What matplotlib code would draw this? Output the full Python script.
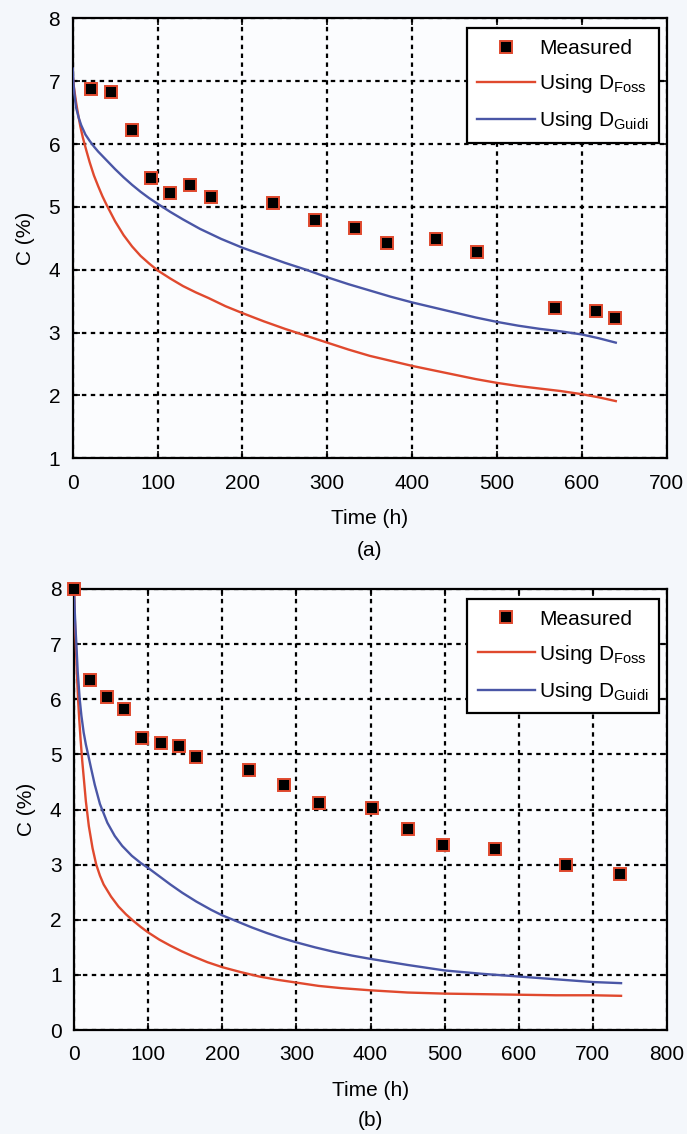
import matplotlib
matplotlib.use("Agg")
import matplotlib.pyplot as plt

plt.rcParams['font.family'] = ['Liberation Sans', 'DejaVu Sans']
plt.rcParams['mathtext.fontset'] = 'custom'
plt.rcParams['mathtext.rm'] = 'Liberation Sans'
plt.rcParams['mathtext.it'] = 'Liberation Sans'

# ---------------- Data: panel (a) ----------------
a_meas_t = [21.3, 45.7, 69.4, 92.6, 114.7, 138.8, 162.8, 236.5, 285.8, 332.3,
            370.6, 427.8, 476, 567.9, 616.8, 639.6]
a_meas_c = [6.87, 6.82, 6.23, 5.46, 5.22, 5.35, 5.15, 5.06, 4.79, 4.67,
            4.43, 4.49, 4.28, 3.39, 3.34, 3.24]

a_foss_t = [0, 1, 2, 4, 6, 9, 12, 16, 20, 25, 30, 35, 40, 50, 60, 70, 80, 90,
            100, 115, 130, 145, 160, 180, 200, 225, 250, 275, 300, 325, 350,
            375, 400, 425, 450, 475, 500, 525, 550, 575, 600, 620, 640]
a_foss_c = [7.1, 6.95, 6.85, 6.66, 6.5, 6.28, 6.1, 5.9, 5.71, 5.5, 5.33, 5.17,
            5.03, 4.77, 4.55, 4.37, 4.22, 4.1, 3.99, 3.86, 3.74, 3.64, 3.55,
            3.42, 3.31, 3.18, 3.06, 2.95, 2.84, 2.73, 2.63, 2.55, 2.47, 2.40,
            2.33, 2.26, 2.2, 2.15, 2.11, 2.07, 2.02, 1.97, 1.91]

a_guidi_t = [0, 1, 2, 4, 7, 10, 15, 20, 25, 30, 40, 50, 60, 70, 80, 90, 100,
             115, 130, 150, 175, 200, 225, 250, 275, 300, 325, 350, 375, 400,
             425, 450, 475, 500, 525, 550, 575, 600, 620, 640]
a_guidi_c = [7.2, 6.95, 6.8, 6.58, 6.42, 6.3, 6.15, 6.05, 5.96, 5.88, 5.74,
             5.6, 5.47, 5.35, 5.24, 5.14, 5.05, 4.92, 4.8, 4.65, 4.49, 4.35,
             4.23, 4.11, 4.0, 3.88, 3.77, 3.67, 3.57, 3.48, 3.4, 3.32, 3.24,
             3.17, 3.11, 3.06, 3.02, 2.97, 2.91, 2.84]

# ---------------- Data: panel (b) ----------------
b_meas_t = [0, 21.3, 43.9, 67.9, 92.3, 116.7, 141.2, 164.7, 235.7, 283.8, 330.2,
            402.3, 450, 498, 568, 663.8, 736]
b_meas_c = [8.0, 6.35, 6.04, 5.83, 5.30, 5.21, 5.15, 4.95, 4.71, 4.45, 4.12,
            4.02, 3.64, 3.36, 3.28, 3.0, 2.83]

b_foss_t = [0, 0.5, 1, 2, 3, 4, 5.5, 7, 9, 11, 13, 16, 20, 25, 30, 35, 40, 50,
            60, 70, 80, 90, 100, 115, 130, 145, 160, 180, 200, 225, 250, 275,
            300, 330, 360, 400, 450, 500, 550, 600, 650, 700, 738]
b_foss_c = [8.0, 7.75, 7.5, 7.15, 6.8, 6.45, 6.0, 5.65, 5.25, 4.9, 4.6, 4.15,
            3.7, 3.3, 3.0, 2.8, 2.64, 2.42, 2.24, 2.1, 1.98, 1.87, 1.77, 1.64,
            1.53, 1.43, 1.34, 1.23, 1.14, 1.05, 0.97, 0.91, 0.86, 0.8, 0.76,
            0.72, 0.68, 0.66, 0.65, 0.64, 0.63, 0.63, 0.62]

b_guidi_t = [0, 1, 2, 3.2, 5, 7.7, 10, 13, 16, 19, 23, 28, 35, 45, 55, 65, 78,
             90, 100, 115, 130, 146, 165, 185, 200, 220, 240, 260, 280, 300,
             325, 350, 375, 400, 450, 500, 550, 600, 650, 700, 738]
b_guidi_c = [8.0, 7.6, 7.3, 7.0, 6.5, 6.0, 5.7, 5.4, 5.18, 5.0, 4.75, 4.45,
             4.1, 3.76, 3.52, 3.34, 3.16, 3.03, 2.94, 2.79, 2.64, 2.49, 2.33,
             2.18, 2.08, 1.97, 1.86, 1.76, 1.67, 1.59, 1.5, 1.42, 1.35, 1.29,
             1.18, 1.08, 1.02, 0.97, 0.92, 0.87, 0.85]

labels = ['Measured', 'Using D$_{\\mathrm{Foss}}$', 'Using D$_{\\mathrm{Guidi}}$']

RED = '#e0492e'
BLUE = '#4a56a6'
FS = 15

fig = plt.figure(figsize=(6.87, 11.34), dpi=100, facecolor='#f4f7fb')
W, H = 687.0, 1134.0


def make_axes(l, r, t, b):
    return fig.add_axes([l / W, 1 - b / H, (r - l) / W, (b - t) / H])


def draw(ax, mt, mc, ft, fc, gt, gc, xmax, ymin, ymax, xstep, caption, cap_y):
    ax.set_facecolor('#fbfcfe')
    ax.plot(ft, fc, color=RED, lw=1.7, zorder=3, label=labels[1])
    ax.plot(gt, gc, color=BLUE, lw=1.7, zorder=3, label=labels[2])
    ax.plot(mt, mc, ls='none', marker='s', ms=8.2, mfc='black', mec=RED,
            mew=1.4, zorder=4, clip_on=False, label=labels[0])
    ax.set_xlim(0, xmax)
    ax.set_ylim(ymin, ymax)
    ax.set_xticks(range(0, xmax + 1, xstep))
    ax.set_yticks(range(ymin, ymax + 1))
    ax.grid(True, color='black', ls=(0, (2.0, 2.0)), lw=1.6, zorder=1)
    ax.set_axisbelow(True)
    ax.tick_params(direction='in', length=5, width=1.2, top=True, right=True,
                   labelsize=FS)
    ax.tick_params(axis='x', pad=11)
    ax.tick_params(axis='y', pad=9)
    for s in ax.spines.values():
        s.set_linewidth(1.6)
    ax.set_xlabel('Time (h)', fontsize=FS, labelpad=12)
    ax.set_ylabel('C (%)', fontsize=FS, labelpad=10)
    h, l = ax.get_legend_handles_labels()
    order = [2, 0, 1]
    leg = ax.legend([h[i] for i in order], [l[i] for i in order],
                    loc='upper right', bbox_to_anchor=(0.987, 0.977),
                    borderaxespad=0, fontsize=FS, fancybox=False,
                    framealpha=1, edgecolor='black', handlelength=2.75,
                    handletextpad=0.2, labelspacing=0.68, borderpad=0.5)
    leg.get_frame().set_linewidth(1.6)
    leg.set_zorder(5)
    ax.text(0.5, cap_y, caption, transform=ax.transAxes,
            ha='center', va='center', fontsize=FS)


ax1 = make_axes(72.7, 666.7, 18.3, 458.3)
draw(ax1, a_meas_t, a_meas_c, a_foss_t, a_foss_c, a_guidi_t, a_guidi_c,
     700, 1, 8, 100, '(a)', -(550 - 458.3) / 440)

ax2 = make_axes(74, 667, 589, 1030)
draw(ax2, b_meas_t, b_meas_c, b_foss_t, b_foss_c, b_guidi_t, b_guidi_c,
     800, 0, 8, 100, '(b)', -(1121 - 1030) / 441)

fig.savefig('out.png', dpi=100, facecolor=fig.get_facecolor())
